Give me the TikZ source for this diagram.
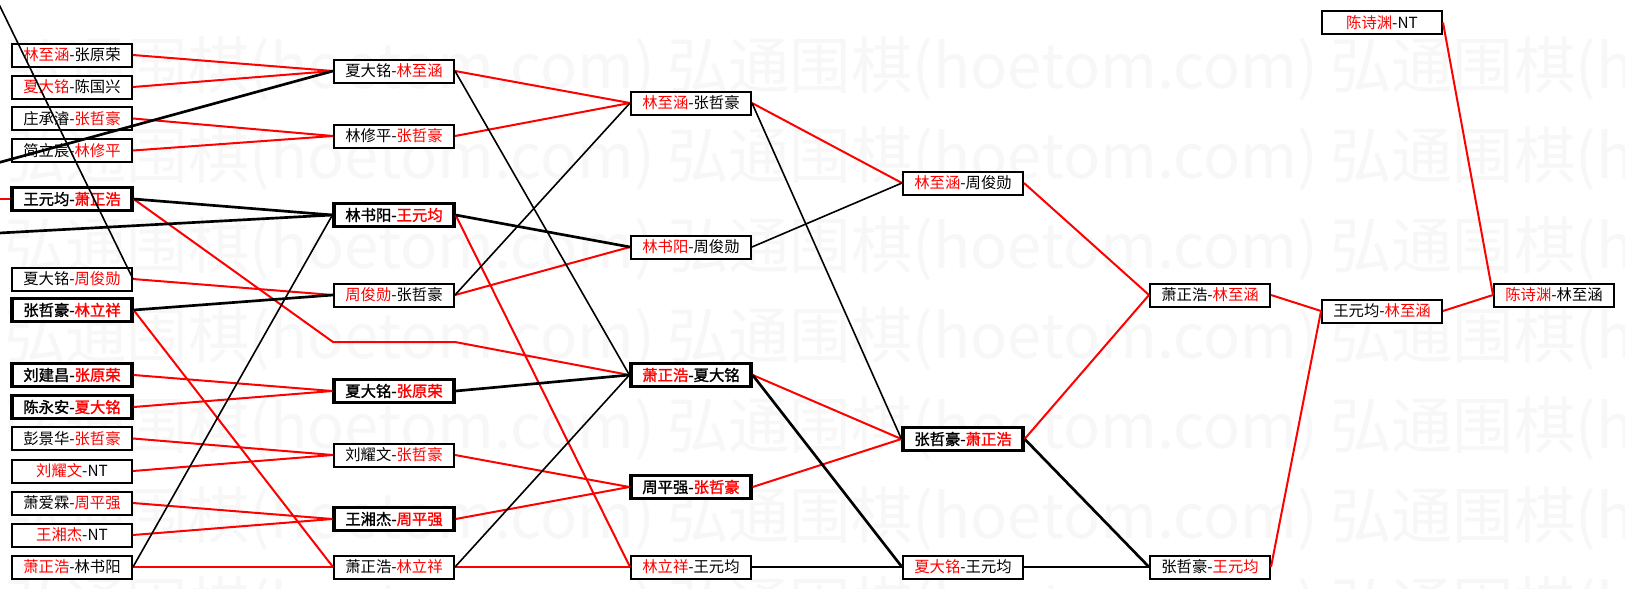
\documentclass[tikz,border=0pt]{standalone}
\usepackage{fontspec}
\setmainfont{Noto Sans CJK SC}
\newfontfamily\boldcjk[FakeBold=1.5]{Noto Sans CJK SC}
\newcommand\rd[1]{\textcolor{red}{#1}}
\begin{document}
\begin{tikzpicture}[x=0.75pt,y=-0.75pt,
  bx/.style={draw=black,line width=1.5pt,fill=white,minimum width=90pt,minimum height=17.25pt,inner sep=0pt,font=\fontsize{11.5pt}{12pt}\selectfont},
  bxt/.style={bx,line width=2.4pt,font=\fontsize{11.5pt}{12pt}\boldcjk},
  rl/.style={draw=red,line width=1.5pt},
  kl/.style={draw=black,line width=1.2pt},
  kt/.style={draw=black,line width=2pt},
  wm/.style={anchor=base west,text=black!3,font=\fontsize{46pt}{48pt}\selectfont,inner sep=0pt}]
\useasboundingbox (0,0) rectangle (1625,589);
\fill[white] (0,0) rectangle (1625,589);
\clip (0,0) rectangle (1625,589);
% watermark
\foreach \yy in {88,178,268,358,448,538,628}
  \foreach \xx in {4,667,1330}
    \node[wm] (wm-\xx-\yy) at (\xx,\yy) {弘通围棋(hoetom.com)};
% column 1
\node[bx]  (a1)  at (72,55)    {\rd{林至涵}-张原荣};
\node[bx]  (a2)  at (72,87)    {\rd{夏大铭}-陈国兴};
\node[bx]  (a3)  at (72,118.5) {庄承濬-\rd{张哲豪}};
\node[bx]  (a4)  at (72,150.5) {简立宸-\rd{林修平}};
\node[bxt] (a5)  at (72,199)   {王元均-\rd{萧正浩}};
\node[bx]  (a6)  at (72,279)   {夏大铭-\rd{周俊勋}};
\node[bxt] (a7)  at (72,310)   {张哲豪-\rd{林立祥}};
\node[bxt] (a8)  at (72,375)   {刘建昌-\rd{张原荣}};
\node[bxt] (a9)  at (72,407)   {陈永安-\rd{夏大铭}};
\node[bx]  (a10) at (72,438.5) {彭景华-\rd{张哲豪}};
\node[bx]  (a11) at (72,471)   {\rd{刘耀文}-NT};
\node[bx]  (a12) at (72,503)   {萧爱霖-\rd{周平强}};
\node[bx]  (a13) at (72,535)   {\rd{王湘杰}-NT};
\node[bx]  (a14) at (72,567)   {\rd{萧正浩}-林书阳};
% column 2
\node[bx]  (b1) at (394,71)  {夏大铭-\rd{林至涵}};
\node[bx]  (b2) at (394,136) {林修平-\rd{张哲豪}};
\node[bxt] (b3) at (394,215) {林书阳-\rd{王元均}};
\node[bx]  (b4) at (394,295) {\rd{周俊勋}-张哲豪};
\node[bxt] (b5) at (394,391) {夏大铭-\rd{张原荣}};
\node[bx]  (b6) at (394,455) {刘耀文-\rd{张哲豪}};
\node[bxt] (b7) at (394,519) {王湘杰-\rd{周平强}};
\node[bx]  (b8) at (394,567) {萧正浩-\rd{林立祥}};
% column 3
\node[bx]  (c1) at (691,103) {\rd{林至涵}-张哲豪};
\node[bx]  (c2) at (691,247) {\rd{林书阳}-周俊勋};
\node[bxt] (c3) at (691,375) {\rd{萧正浩}-夏大铭};
\node[bxt] (c4) at (691,487) {周平强-\rd{张哲豪}};
\node[bx]  (c5) at (691,567) {\rd{林立祥}-王元均};
% column 4
\node[bx]  (d1) at (963,183) {\rd{林至涵}-周俊勋};
\node[bxt] (d2) at (963,439) {张哲豪-\rd{萧正浩}};
\node[bx]  (d3) at (963,567) {\rd{夏大铭}-王元均};
% column 5
\node[bx]  (e1) at (1210,295) {萧正浩-\rd{林至涵}};
\node[bx]  (e2) at (1210,567) {张哲豪-\rd{王元均}};
% column 6
\node[bx]  (f0) at (1382,22.5) {\rd{陈诗渊}-NT};
\node[bx]  (f1) at (1382,311)  {王元均-\rd{林至涵}};
% column 7
\node[bx]  (g1) at (1554,295)  {\rd{陈诗渊}-林至涵};
% free ends and bends
\coordinate (o1) at (-8,-10);
\coordinate (o2) at (-10,165);
\coordinate (o3) at (-10,233.5);
\coordinate (o4) at (-10,199);
\coordinate (k1) at (333,342);
\coordinate (k2) at (455,342);
% red connectors
\draw[rl] (o4) -- (a5.west);
\draw[rl] (a1.east) -- (b1.west);
\draw[rl] (a2.east) -- (b1.west);
\draw[rl] (a3.east) -- (b2.west);
\draw[rl] (a4.east) -- (b2.west);
\draw[rl] (a6.east) -- (b4.west);
\draw[rl] (a7.east) -- (b8.west);
\draw[rl] (a8.east) -- (b5.west);
\draw[rl] (a9.east) -- (b5.west);
\draw[rl] (a10.east) -- (b6.west);
\draw[rl] (a11.east) -- (b6.west);
\draw[rl] (a12.east) -- (b7.west);
\draw[rl] (a13.east) -- (b7.west);
\draw[rl] (a14.east) -- (b8.west);
\draw[rl] (a5.east) -- (k1) -- (k2) -- (c3.west);
\draw[rl] (b1.east) -- (c1.west);
\draw[rl] (b2.east) -- (c1.west);
\draw[rl] (b3.east) -- (c5.west);
\draw[rl] (b4.east) -- (c2.west);
\draw[rl] (b6.east) -- (c4.west);
\draw[rl] (b7.east) -- (c4.west);
\draw[rl] (b8.east) -- (c5.west);
\draw[rl] (c1.east) -- (d1.west);
\draw[rl] (c3.east) -- (d2.west);
\draw[rl] (c4.east) -- (d2.west);
\draw[rl] (d1.east) -- (e1.west);
\draw[rl] (d2.east) -- (e1.west);
\draw[rl] (e1.east) -- (f1.west);
\draw[rl] (e2.east) -- (f1.west);
\draw[rl] (f1.east) -- (g1.west);
\draw[rl] (f0.east) -- (g1.west);
% black connectors
\draw[kl] (a6.east) -- (o1);
\draw[kt] (o2) -- (b1.west);
\draw[kt] (o3) -- (b3.west);
\draw[kt] (a5.east) -- (b3.west);
\draw[kt] (a7.east) -- (b4.west);
\draw[kl] (a14.east) -- (b3.west);
\draw[kl] (b1.east) -- (c3.west);
\draw[kt] (b3.east) -- (c2.west);
\draw[kl] (b4.east) -- (c1.west);
\draw[kt] (b5.east) -- (c3.west);
\draw[kl] (b8.east) -- (c3.west);
\draw[kl] (c1.east) -- (d2.west);
\draw[kl] (c2.east) -- (d1.west);
\draw[kt] (c3.east) -- (d3.west);
\draw[kl] (c5.east) -- (d3.west);
\draw[kt] (d2.east) -- (e2.west);
\draw[kl] (d3.east) -- (e2.west);
\end{tikzpicture}
\end{document}
